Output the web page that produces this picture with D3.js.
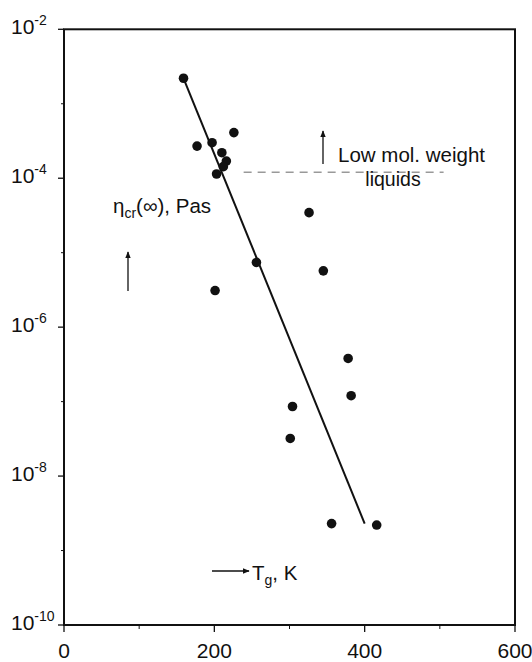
<!DOCTYPE html>
<html><head><meta charset="utf-8">
<script src="https://cdn.jsdelivr.net/npm/d3@7/dist/d3.min.js"></script>
<style>body{margin:0;background:#fff}svg{display:block}text{font-family:"Liberation Sans",Arial,sans-serif;fill:#111}</style>
</head><body><svg id="c" width="532" height="662"></svg>
<script>
const tg  = [159, 177, 197, 226, 210, 216, 212, 203, 326, 256, 345, 201, 378, 382, 304, 301, 356, 416];
const eta = [2.2e-3, 2.7e-4, 3.0e-4, 4.1e-4, 2.2e-4, 1.7e-4, 1.43e-4, 1.14e-4, 3.45e-5, 7.4e-6, 5.7e-6, 3.1e-6, 3.8e-7, 1.2e-7, 8.6e-8, 3.2e-8, 2.3e-9, 2.2e-9];
const fitT = [159, 400];
const fitEta = [2.2e-3, 2.3e-9];
const liqT = [239, 505];
const liqEta = 1.2e-4;
const xTicks = [0, 200, 400, 600];
const xMinor = [100, 300, 500];
const yExp = [-2, -4, -6, -8, -10];
const yMinorExp = [-3, -5, -7, -9];

const svg = d3.select("#c");
const L = 64, R = 515, T = 29.3, B = 625;
const x = d3.scaleLinear().domain([0, 600]).range([L, R]);
const y = d3.scaleLog().domain([1e-10, 1e-2]).range([B, T]);

// frame
svg.append("rect").attr("x", L).attr("y", T).attr("width", R - L).attr("height", B - T)
  .attr("fill", "none").attr("stroke", "#111").attr("stroke-width", 2);

// x ticks
const gx = svg.append("g");
gx.selectAll("line.maj").data(xTicks).join("line")
  .attr("x1", d => x(d)).attr("x2", d => x(d)).attr("y1", B).attr("y2", B + 7)
  .attr("stroke", "#111").attr("stroke-width", 1.3);
gx.selectAll("line.min").data(xMinor).join("line").attr("class","min")
  .attr("x1", d => x(d)).attr("x2", d => x(d)).attr("y1", B).attr("y2", B + 4)
  .attr("stroke", "#111").attr("stroke-width", 1);
gx.selectAll("text").data(xTicks).join("text")
  .attr("x", d => x(d)).attr("y", 658).attr("text-anchor", "middle")
  .attr("font-size", 21).text(d => d);

// y ticks
const gy = svg.append("g");
gy.selectAll("line.maj").data(yExp).join("line")
  .attr("x1", L - 6).attr("x2", L).attr("y1", d => y(Math.pow(10, d))).attr("y2", d => y(Math.pow(10, d)))
  .attr("stroke", "#111").attr("stroke-width", 1.3);
gy.selectAll("line.min").data(yMinorExp).join("line").attr("class","min")
  .attr("x1", L - 3).attr("x2", L).attr("y1", d => y(Math.pow(10, d))).attr("y2", d => y(Math.pow(10, d)))
  .attr("stroke", "#111").attr("stroke-width", 1);
const yl = gy.selectAll("text").data(yExp).join("text")
  .attr("x", 11).attr("y", d => y(Math.pow(10, d)) + 5).attr("font-size", 21);
yl.append("tspan").text("10");
yl.append("tspan").attr("font-size", 14).attr("dy", -9).text(d => "-" + Math.abs(d));

// fit line
svg.append("line")
  .attr("x1", x(fitT[0])).attr("y1", y(fitEta[0])).attr("x2", x(fitT[1])).attr("y2", y(fitEta[1]))
  .attr("stroke", "#111").attr("stroke-width", 2);

// dashed liquids line
svg.append("line")
  .attr("x1", x(liqT[0])).attr("x2", x(liqT[1])).attr("y1", y(liqEta)).attr("y2", y(liqEta))
  .attr("stroke", "#999").attr("stroke-width", 1.5).attr("stroke-dasharray", "8,6");

// points
svg.selectAll("circle").data(tg).join("circle")
  .attr("cx", d => x(d)).attr("cy", (d, i) => y(eta[i])).attr("r", 4.8).attr("fill", "#111");

// arrow marker
svg.append("defs").append("marker").attr("id", "ah").attr("viewBox", "0 0 10 10")
  .attr("refX", 9).attr("refY", 5).attr("markerWidth", 7).attr("markerHeight", 7)
  .attr("markerUnits", "userSpaceOnUse").attr("orient", "auto")
  .append("path").attr("d", "M0,1 L10,5 L0,9 Z").attr("fill", "#111");

// annotation: Low mol. weight liquids
svg.append("line").attr("x1", 323).attr("y1", 164).attr("x2", 323).attr("y2", 131)
  .attr("stroke", "#111").attr("stroke-width", 1.3).attr("marker-end", "url(#ah)");
svg.append("text").attr("x", 338).attr("y", 162).attr("font-size", 20.5).text("Low mol. weight");
svg.append("text").attr("x", 393).attr("y", 186).attr("text-anchor", "middle").attr("font-size", 19.5).text("liquids");

// y axis label
const ylab = svg.append("text").attr("x", 113).attr("y", 213).attr("font-size", 20.5);
ylab.append("tspan").text("η");
ylab.append("tspan").attr("font-size", 14).attr("dy", 5).text("cr");
ylab.append("tspan").attr("dy", -5).text("(∞), Pas");
svg.append("line").attr("x1", 128).attr("y1", 291).attr("x2", 128).attr("y2", 252)
  .attr("stroke", "#111").attr("stroke-width", 1.3).attr("marker-end", "url(#ah)");

// x axis label
svg.append("line").attr("x1", 212).attr("y1", 571).attr("x2", 249).attr("y2", 571)
  .attr("stroke", "#111").attr("stroke-width", 1.3).attr("marker-end", "url(#ah)");
const xlab = svg.append("text").attr("x", 252).attr("y", 580).attr("font-size", 20.5);
xlab.append("tspan").text("T");
xlab.append("tspan").attr("font-size", 14).attr("dy", 5).text("g");
xlab.append("tspan").attr("dy", -5).text(", K");
</script></body></html>
